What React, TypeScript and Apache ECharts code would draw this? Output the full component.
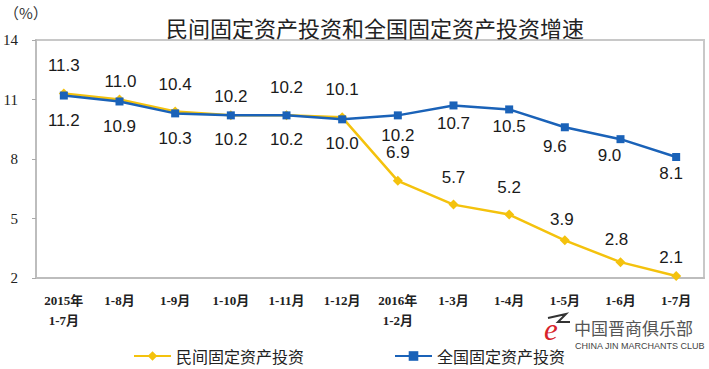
import React, { useEffect, useRef } from "react";
import * as echarts from "echarts";

const categories = [
  "2015年\n1-7月", "1-8月", "1-9月", "1-10月", "1-11月", "1-12月",
  "2016年\n1-2月", "1-3月", "1-4月", "1-5月", "1-6月", "1-7月",
];
const privateInvest = [11.3, 11.0, 10.4, 10.2, 10.2, 10.1, 6.9, 5.7, 5.2, 3.9, 2.8, 2.1];
const nationalInvest = [11.2, 10.9, 10.3, 10.2, 10.2, 10.0, 10.2, 10.7, 10.5, 9.6, 9.0, 8.1];
const yTicks = [2, 5, 8, 11, 14];

// label placement (styling only)
const privGap = [15, 5, 13.5, 5.5, 14.5, 14.5, 14.5, 14, 13.5, 7.5, 9.5, 5.5];
const privDx = [0, 1, 0, 0, 0, 0, 0, 0, 0, -3, -4, -5];
const natGap = [12.5, 12.5, 12.5, 12, 12, 11.5, 7.5, 5.5, 4.5, 6.5, 3.5, 3.5];
const natDx = [0, 0, 0, 0, 0, 0, 0, 0, 0, -10, -11, -5];

const YELLOW = "#F4C20D";
const BLUE = "#1A62B8";

export default function App() {
  const ref = useRef<HTMLDivElement>(null);
  useEffect(() => {
    document.body.style.margin = "0";
    const chart = echarts.init(ref.current!, null, { renderer: "svg" });
    const labelFont = {
      fontFamily: "Liberation Sans, Arial, sans-serif",
      fontSize: 17,
      color: "#1a1a1a",
    };
    chart.setOption({
      animation: false,
      backgroundColor: "#ffffff",
      title: {
        text: "民间固定资产投资和全国固定资产投资增速",
        left: 370,
        textAlign: "center",
        top: 11,
        textStyle: {
          fontFamily: "Noto Sans CJK SC",
          fontSize: 22,
          fontWeight: "normal",
          color: "#222",
        },
      },
      grid: {
        left: 36,
        right: 5,
        top: 40,
        bottom: 91,
        show: true,
        borderColor: "#c8c8c8",
        borderWidth: 2,
        containLabel: false,
      },
      legend: {
        left: 128,
        top: 343,
        itemWidth: 37,
        itemHeight: 12,
        itemGap: 90,
        textStyle: {
          fontFamily: "Noto Sans CJK SC",
          fontSize: 16,
          color: "#222",
        },
        data: ["民间固定资产投资", "全国固定资产投资"],
      },
      xAxis: {
        type: "category",
        data: categories,
        boundaryGap: true,
        axisLine: { lineStyle: { color: "#bdbdbd", width: 2 } },
        axisTick: { inside: true, length: 4, lineStyle: { color: "#aaa" } },
        axisLabel: {
          interval: 0,
          margin: 12,
          fontFamily: "Liberation Serif, Noto Sans CJK SC",
          fontSize: 13,
          fontWeight: "bold",
          lineHeight: 20,
          color: "#222",
        },
      },
      yAxis: {
        type: "value",
        min: 2,
        max: 14,
        splitLine: { show: false },
        axisLine: { show: true, lineStyle: { color: "#bdbdbd", width: 2 } },
        axisTick: { show: true, length: 4, customValues: yTicks, lineStyle: { color: "#aaa" } },
        axisLabel: {
          customValues: yTicks,
          margin: 18,
          fontFamily: "Liberation Serif, serif",
          fontSize: 15,
          color: "#222",
        },
      },
      graphic: [
        {
          type: "text",
          left: 4,
          top: 5,
          style: {
            text: "（%）",
            fontFamily: "Noto Sans CJK SC",
            fontSize: 15,
            fill: "#333",
          },
        },
        {
          type: "polyline",
          shape: { points: [[548, 318], [566, 314], [558, 322], [570, 322]] },
          style: { stroke: "#333", lineWidth: 2, fill: null },
        },
        {
          type: "text",
          left: 544,
          top: 314,
          style: {
            text: "e",
            fontFamily: "Liberation Serif",
            fontStyle: "italic",
            fontSize: 31,
            fill: "#d7232b",
          },
        },
        {
          type: "text",
          left: 574,
          top: 319,
          style: {
            text: "中国晋商俱乐部",
            fontFamily: "Noto Sans CJK SC",
            fontSize: 17,
            fill: "#555",
          },
        },
        {
          type: "text",
          left: 575,
          top: 341,
          style: {
            text: "CHINA JIN MARCHANTS CLUB",
            fontFamily: "Liberation Sans",
            fontSize: 9,
            fill: "#444",
          },
        },
      ],
      series: [
        {
          name: "民间固定资产投资",
          type: "line",
          symbol: "diamond",
          symbolSize: 10,
          z: 3,
          lineStyle: { color: YELLOW, width: 2.5 },
          itemStyle: { color: YELLOW },
          data: privateInvest.map((v, i) => ({
            value: v,
            label: {
              show: true,
              position: "top",
              distance: privGap[i],
              offset: [privDx[i], 0],
              formatter: v.toFixed(1),
              ...labelFont,
            },
          })),
        },
        {
          name: "全国固定资产投资",
          type: "line",
          symbol: "rect",
          symbolSize: 8,
          z: 4,
          lineStyle: { color: BLUE, width: 2.5 },
          itemStyle: { color: BLUE },
          data: nationalInvest.map((v, i) => ({
            value: v,
            label: {
              show: true,
              position: "bottom",
              distance: natGap[i],
              offset: [natDx[i], 0],
              formatter: v.toFixed(1),
              ...labelFont,
            },
          })),
        },
      ],
    });
    return () => chart.dispose();
  }, []);
  return <div ref={ref} style={{ width: 709, height: 369 }} />;
}
